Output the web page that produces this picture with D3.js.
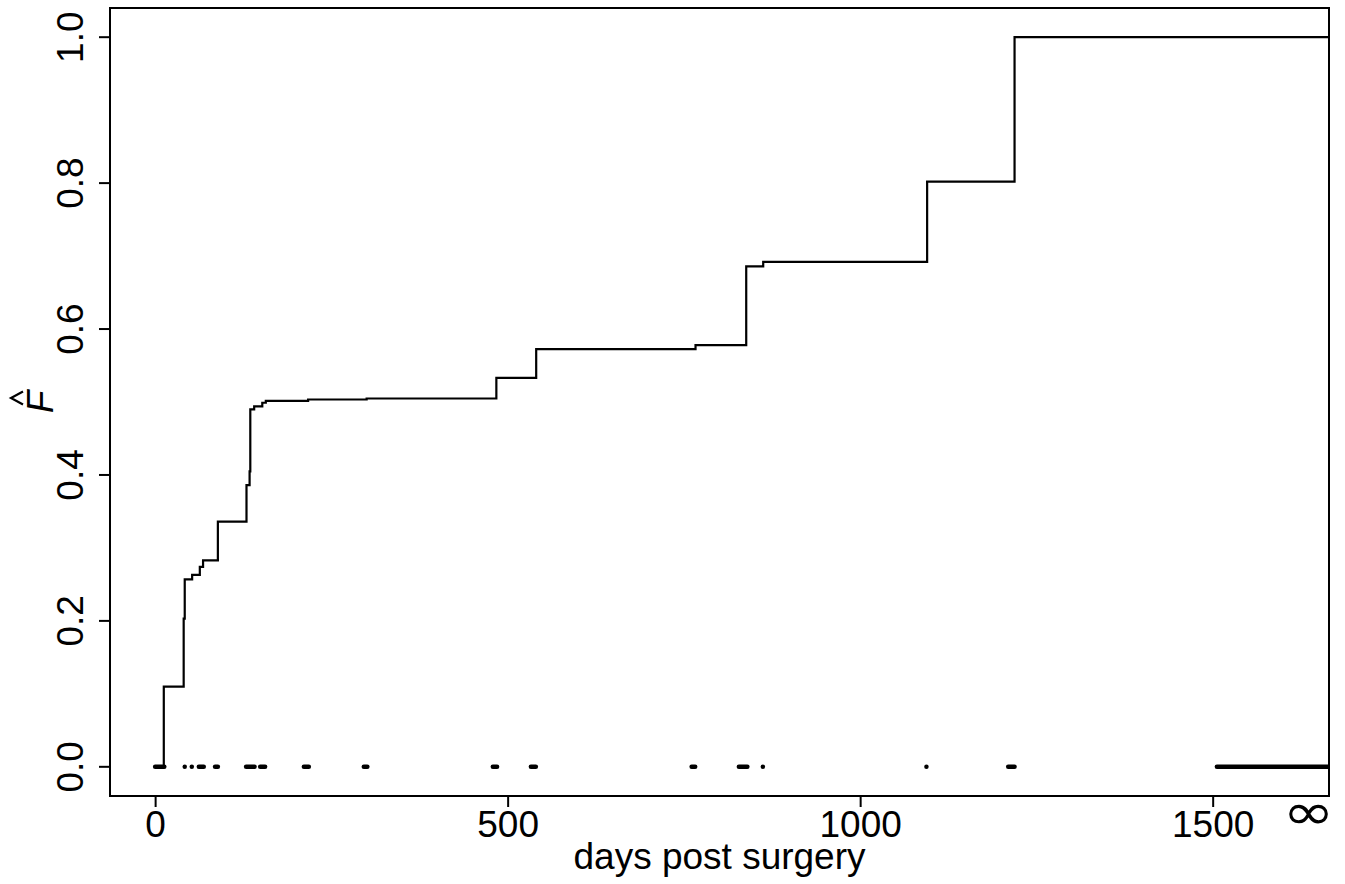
<!DOCTYPE html>
<html lang="en">
<head>
    <meta charset="UTF-8">
    <script src="https://d3js.org/d3.v7.min.js"></script>
</head>
<style>
    body {
        margin: 0;
        background-color: #ffffff;
    }
    #viz text {
        font-family: 'Liberation Sans', Arial, sans-serif;
        fill: #000;
    }
</style>
<body>
    <svg id="viz" width="1345" height="884"></svg>
    <script>

    // NPMLE step function (days, F hat)
    var stepDays = [0, 12.3, 40.5, 42, 52.5, 63.4, 68, 89, 129.6, 134, 135, 140.5, 152, 157, 217, 300, 484, 540.5, 766.5, 838.4, 862.5, 1095, 1219];
    var stepF    = [0, 0.110, 0.203, 0.257, 0.263, 0.274, 0.283, 0.336, 0.386, 0.405, 0.490, 0.494, 0.499, 0.5015, 0.5034, 0.5048, 0.533, 0.5725, 0.578, 0.686, 0.692, 0.802, 1.0];

    // observed intervals drawn along F = 0
    var intLeft  = [0, 42, 52, 62, 85, 129, 149, 211, 296, 479, 533, 761, 828, 862, 1094, 1210, 1506];
    var intRight = [13, 42, 52, 69, 89, 141, 156, 218, 301, 485, 540, 766, 840, 862, 1094, 1219, Infinity];

    var xTicks = [0, 500, 1000, 1500];
    var yTicks = [0, 0.2, 0.4, 0.6, 0.8, 1.0];
    var infPos = 1636;

    var svg = d3.select("#viz"),
        margin = {top: 8, right: 16, bottom: 88, left: 110},
        width = +svg.attr("width") - margin.left - margin.right,
        height = +svg.attr("height") - margin.top - margin.bottom;

    var xMax = 1665;
    var x = d3.scaleLinear().domain([-64, xMax]).range([margin.left, margin.left + width]);
    var y = d3.scaleLinear().domain([-0.04, 1.04]).range([margin.top + height, margin.top]);

    svg.append("clipPath").attr("id", "clip")
        .append("rect")
        .attr("x", margin.left).attr("y", margin.top)
        .attr("width", width).attr("height", height);

    var plot = svg.append("g").attr("clip-path", "url(#clip)");

    // step line
    var pts = stepDays.map(function(d, i) { return [d, stepF[i]]; });
    pts.push([xMax, stepF[stepF.length - 1]]);

    var line = d3.line()
        .x(function(d) { return x(d[0]); })
        .y(function(d) { return y(d[1]); })
        .curve(d3.curveStepAfter);

    plot.append("path")
        .datum(pts)
        .attr("d", line)
        .attr("fill", "none")
        .attr("stroke", "#000")
        .attr("stroke-width", 2.2);

    // intervals at zero
    plot.selectAll(".ival")
        .data(intLeft.map(function(d, i) { return {l: d, r: intRight[i]}; }))
        .enter().append("line")
        .attr("class", "ival")
        .attr("x1", function(d) { return x(d.l); })
        .attr("x2", function(d) { return isFinite(d.r) ? x(d.r) : x(xMax) + 4; })
        .attr("y1", y(0))
        .attr("y2", y(0))
        .attr("stroke", "#000")
        .attr("stroke-width", 4.5)
        .attr("stroke-linecap", "round");

    // box
    svg.append("rect")
        .attr("x", margin.left).attr("y", margin.top)
        .attr("width", width).attr("height", height)
        .attr("fill", "none")
        .attr("stroke", "#000")
        .attr("stroke-width", 2);

    // x axis
    var xAxis = svg.append("g")
        .attr("transform", "translate(0," + (margin.top + height) + ")")
        .call(d3.axisBottom(x).tickValues(xTicks).tickSize(11).tickPadding(4).tickFormat(d3.format("d")));
    xAxis.select(".domain").remove();
    xAxis.selectAll("line").attr("stroke-width", 2);
    xAxis.selectAll("text").attr("font-size", 37).style("font-family", "'Liberation Sans', Arial, sans-serif");

    svg.append("text")
        .attr("transform", "translate(" + x(infPos) + ",829) scale(1.25,1)")
        .attr("text-anchor", "middle")
        .attr("font-size", 50)
        .style("font-family", "'DejaVu Sans', sans-serif")
        .text("\u221E");

    // y axis
    var yAxis = svg.append("g");
    yAxis.selectAll("line")
        .data(yTicks)
        .enter().append("line")
        .attr("x1", margin.left - 11)
        .attr("x2", margin.left)
        .attr("y1", function(d) { return y(d); })
        .attr("y2", function(d) { return y(d); })
        .attr("stroke", "#000")
        .attr("stroke-width", 2);
    yAxis.selectAll("text")
        .data(yTicks)
        .enter().append("text")
        .attr("transform", function(d) { return "translate(83," + y(d) + ") rotate(-90)"; })
        .attr("text-anchor", "middle")
        .attr("font-size", 37)
        .text(d3.format(".1f"));

    // labels
    svg.append("text")
        .attr("x", margin.left + width / 2)
        .attr("y", 869)
        .attr("text-anchor", "middle")
        .attr("font-size", 37)
        .text("days post surgery");

    var ylab = svg.append("g")
        .attr("transform", "translate(53," + (margin.top + height / 2) + ") rotate(-90)");
    ylab.append("text")
        .attr("x", 0)
        .attr("y", 0)
        .attr("text-anchor", "middle")
        .attr("font-size", 37)
        .attr("font-style", "italic")
        .text("F");
    ylab.append("path")
        .attr("d", "M-2.5,-30 L4,-42 L10.5,-30")
        .attr("fill", "none")
        .attr("stroke", "#000")
        .attr("stroke-width", 2.2);

    </script>
</body>
</html>
